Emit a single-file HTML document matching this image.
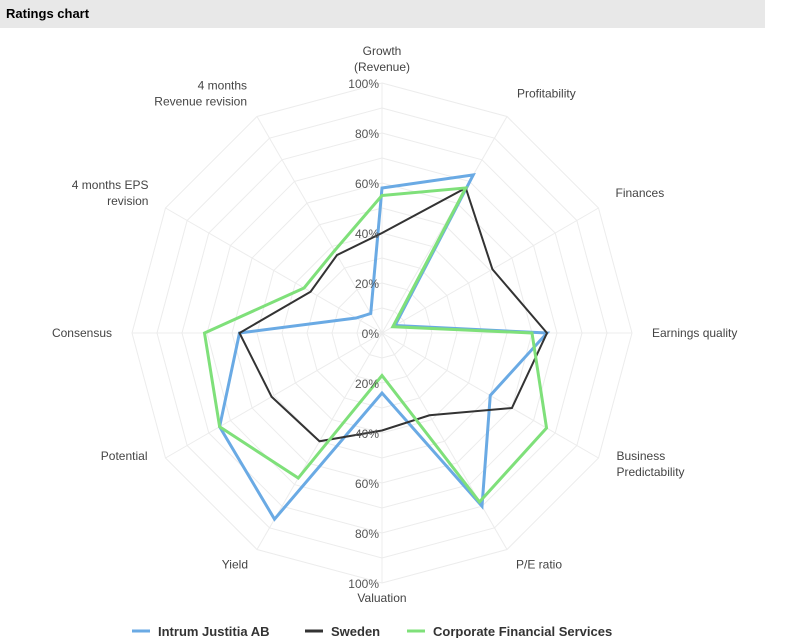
<!DOCTYPE html>
<html><head><meta charset="utf-8"><style>
body{margin:0;width:800px;height:638px;background:#fff;font-family:"Liberation Sans",sans-serif;overflow:hidden}
#hdr{position:absolute;left:0;top:0;width:765px;height:28px;background:#e8e8e8;font-weight:bold;font-size:13px;line-height:28px;padding-left:6px;box-sizing:border-box}
svg{position:absolute;left:0;top:0}
</style></head><body>
<div id="hdr">Ratings chart</div>
<svg id="c" width="800" height="638"></svg>
<script>
const categories=[["Growth","(Revenue)"],["Profitability"],["Finances"],["Earnings quality"],["Business","Predictability"],["P/E ratio"],["Valuation"],["Yield"],["Potential"],["Consensus"],["4 months EPS","revision"],["4 months","Revenue revision"]];
const seriesNames=["Intrum Justitia AB","Sweden","Corporate Financial Services"];
const intrum=[58,73,6,66,50,80,24,86,75,57,12,9];
const sweden=[40,67,51,66,60,38,39,50,51,57,33,36];
const sector=[55,67,5,60,76,78,17,67,75,71,36,38];
const tickLabels=["0%","20%","40%","60%","80%","100%"];
const colors=["#6aaae4","#333333","#7fe07a"];
const cx=382,cy=333,R=250,N=categories.length;
const svg=document.getElementById('c');const NS="http://www.w3.org/2000/svg";
function mk(t,a,p){const e=document.createElementNS(NS,t);for(const k in a)e.setAttribute(k,a[k]);(p||svg).appendChild(e);return e;}
function pt(i,v){const a=i*2*Math.PI/N;return [cx+R*v/100*Math.sin(a),cy-R*v/100*Math.cos(a)];}
for(let r=1;r<=10;r++){const ps=[];for(let i=0;i<N;i++)ps.push(pt(i,r*10).join(','));
const g=mk('polygon',{points:ps.join(' '),fill:'none',stroke:'#ececec','stroke-width':1});
}
for(let i=0;i<N;i++){const p=pt(i,100);const l=mk('line',{x1:cx,y1:cy,x2:p[0],y2:p[1],stroke:'#ececec'});
}
const all=[intrum,sweden,sector];
all.forEach((s,k)=>{const ps=s.map((v,i)=>pt(i,v).join(','));
const pl=mk('polygon',{points:ps.join(' '),fill:'none',stroke:colors[k],'stroke-width':k==1?2:3,'stroke-linejoin':'miter'});
});
tickLabels.forEach((t,j)=>{const v=j*20;
const a=mk('text',{x:cx-3,y:cy-R*v/100+5,'text-anchor':'end','font-size':12,fill:'#555'});a.textContent=t;

if(j>0){const b=mk('text',{x:cx-3,y:cy+R*v/100+5,'text-anchor':'end','font-size':12,fill:'#555'});b.textContent=t;
}});
const offX=[0,10,17,20,18,9,0];
const offY=[-28,-19,-11,4,2,19,19];
categories.forEach((c,i)=>{const p=pt(i,100);const j=i<=6?i:12-i;const sgn=i<=6?1:-1;
const s=Math.sin(i*2*Math.PI/N);
let anchor=Math.abs(s)<0.1?'middle':(s>0?'start':'end');
let x=p[0]+sgn*offX[j];
let y=p[1]+offY[j];
if(c.length>1&&i!=0&&i!=4&&i!=8)y-=8;
if(i==0)y=cy-R-28;
const t=mk('text',{x:x,y:y,'text-anchor':anchor,'font-size':12,fill:'#444'});

c.forEach((ln,k)=>{const ts=mk('tspan',{x:x,dy:k?16:0},t);ts.textContent=ln;});});
const lx=[132,305,407];
seriesNames.forEach((n,k)=>{const g=mk('g',{});
mk('line',{x1:lx[k],y1:631,x2:lx[k]+18,y2:631,stroke:colors[k],'stroke-width':3},g);
const t=mk('text',{x:lx[k]+26,y:636,'font-size':13,'font-weight':'bold',fill:'#333'},g);t.textContent=n;});
</script>
</body></html>
